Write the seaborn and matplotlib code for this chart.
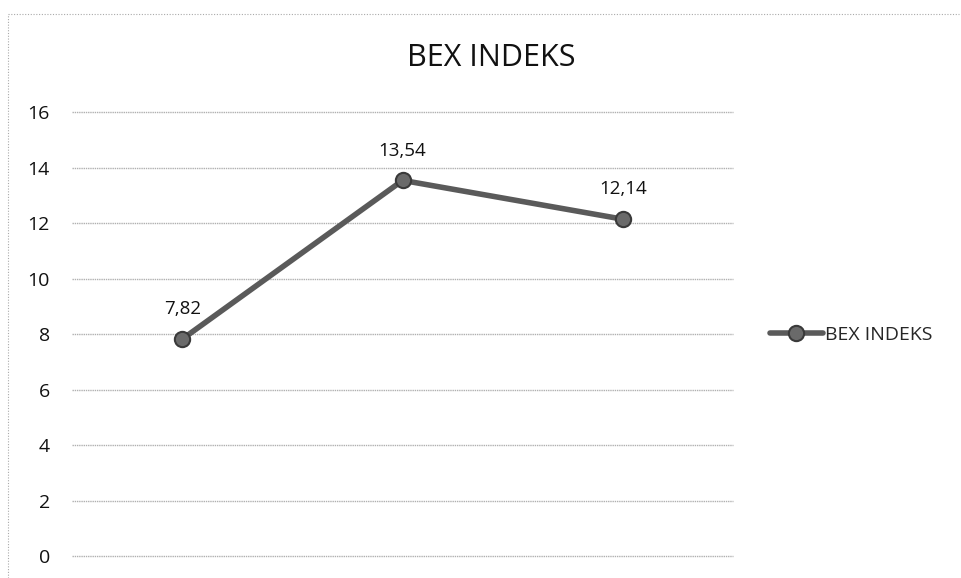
import pandas as pd
import seaborn as sns
import matplotlib.pyplot as plt
from matplotlib.lines import Line2D

periods = ["P1", "P2", "P3"]
bex_values = [7.82, 13.54, 12.14]
value_labels = ["7,82", "13,54", "12,14"]
y_ticks = [0, 2, 4, 6, 8, 10, 12, 14, 16]

df = pd.DataFrame({"period": periods, "BEX INDEKS": bex_values})

sns.set_theme(style="white")
plt.rcParams['font.family'] = ['Open Sans', 'DejaVu Sans']

fig = plt.figure(figsize=(9.61, 5.78), dpi=100)
ax = fig.add_axes([0.075, 0.038, 0.688, 0.768])

sns.lineplot(data=df, x="period", y="BEX INDEKS", ax=ax, color="#5a5a5a",
             linewidth=4, marker="o", markersize=11, markeredgecolor="#3a3a3a",
             markerfacecolor="#6a6a6a", markeredgewidth=1.5, label="BEX INDEKS",
             sort=False)

for i, (v, lab) in enumerate(zip(bex_values, value_labels)):
    ax.annotate(lab, (i, v), xytext=(0, 15), textcoords="offset points",
                ha="center", va="bottom", fontsize=13.5, color="#111111")

ax.set_xlim(-0.5, 2.5)
ax.set_ylim(0, 16)
ax.set_yticks(y_ticks)
ax.set_yticklabels([str(t) for t in y_ticks], fontsize=14, color="#111111")
ax.tick_params(axis="y", pad=16, length=0)
ax.set_xticks([])
ax.set_xlabel("")
ax.set_ylabel("")
ax.yaxis.grid(True, color="#b0b0b0", linewidth=1, linestyle=(0, (1, 0.6)))
for gl in ax.get_ygridlines():
    gl.set_clip_on(False)
for s in ax.spines.values():
    s.set_visible(False)

fig.text(0.511, 0.9, "BEX INDEKS", ha="center", va="center", fontsize=22, color="#111111")

leg = ax.legend(loc="center left", bbox_to_anchor=(1.044, 0.498), frameon=False,
                fontsize=14, handlelength=2.7, handletextpad=0.1, borderaxespad=0)

# scanned chart frame: dotted left and top edges only
frame_style = dict(transform=fig.transFigure, color="#aaaaaa", linewidth=0.8,
                   linestyle=(0, (1, 1.5)))
fig.lines.append(Line2D([0.008, 0.008], [0.0, 0.975], **frame_style))
fig.lines.append(Line2D([0.008, 0.998], [0.975, 0.975], **frame_style))

fig.savefig("out.png", dpi=100)
